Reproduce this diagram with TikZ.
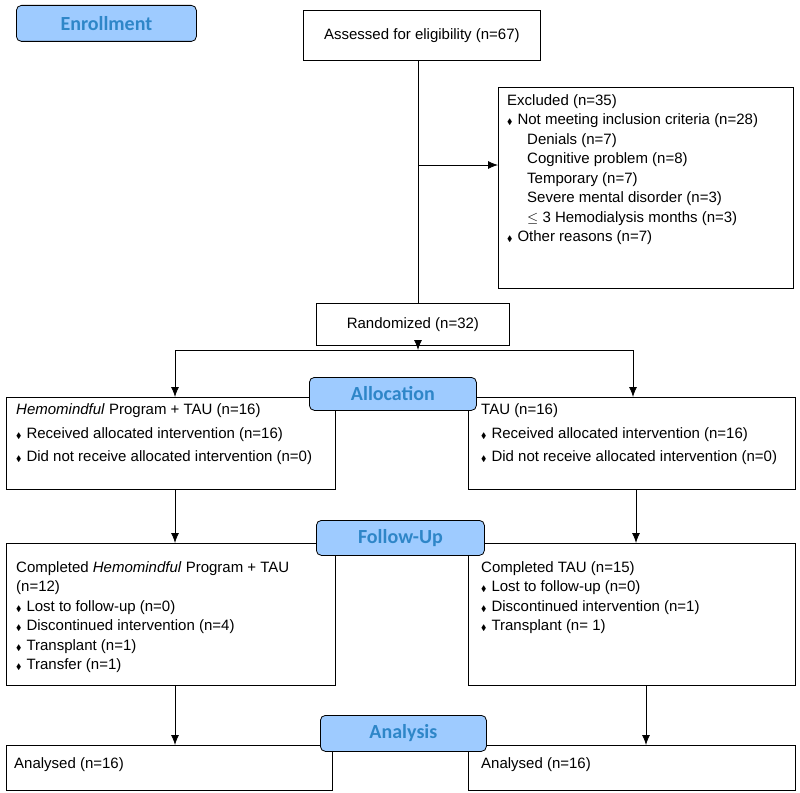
\documentclass[tikz,border=0pt]{standalone}
\usepackage{fontspec}
\usepackage{amssymb}
\setmainfont{Liberation Sans}
\newfontfamily\hdfont{Carlito}
\definecolor{hdfill}{HTML}{9ECBFF}
\definecolor{hdtext}{HTML}{2E86C8}
\newcommand{\dia}{{\fontsize{8}{8}\selectfont$\blacklozenge$}\hspace{5pt}}
\tikzset{
  box/.style={draw, line width=0.8pt, anchor=north west, inner sep=0pt},
  txt/.style={anchor=north west, align=left, inner sep=0pt, font=\fontsize{15}{19.5}\selectfont},
  head/.style={draw, line width=0.8pt, fill=hdfill, rounded corners=5pt, anchor=north west, inner sep=0pt,
    font=\hdfont\bfseries\fontsize{20}{20}\selectfont, text=hdtext},
  arr/.style={-{Latex[length=10pt,width=8pt]}, line width=0.8pt},
  ln/.style={line width=0.8pt}
}
\usetikzlibrary{arrows.meta}
\begin{document}
\begin{tikzpicture}[x=1pt,y=-1pt]
\useasboundingbox (0,0) rectangle (800,792);
% boxes
\node[box, minimum width=237pt, minimum height=50pt] (assess) at (303,10) {};
\node[txt, anchor=center] at (assess.center) {Assessed for eligibility (n=67)};
\node[box, minimum width=295pt, minimum height=201pt] (excl) at (498,87) {};
\node[txt] at (507,94) {Excluded (n=35)\\
\dia Not meeting inclusion criteria (n=28)\\
\hspace{20pt}Denials (n=7)\\
\hspace{20pt}Cognitive problem (n=8)\\
\hspace{20pt}Temporary (n=7)\\
\hspace{20pt}Severe mental disorder (n=3)\\
\hspace{20pt}$\leq$ 3 Hemodialysis months (n=3)\\
\dia Other reasons (n=7)};
\node[box, minimum width=193pt, minimum height=42pt] (rand) at (316,303) {};
\node[txt, anchor=center] at (rand.center) {Randomized (n=32)};
% allocation
\node[box, minimum width=329pt, minimum height=92pt] (allocL) at (6,397) {};
\node[txt] at (16,403) {\textit{Hemomindful} Program + TAU (n=16)\\[5pt]
\dia Received allocated intervention (n=16)\\[3pt]
\dia Did not receive allocated intervention (n=0)};
\node[box, minimum width=327pt, minimum height=92pt] (allocR) at (468,397) {};
\node[txt] at (481,403) {TAU (n=16)\\[5pt]
\dia Received allocated intervention (n=16)\\[3pt]
\dia Did not receive allocated intervention (n=0)};
% follow-up
\node[box, minimum width=329pt, minimum height=142pt] (fupL) at (6,543) {};
\node[txt] at (16,561) {Completed \textit{Hemomindful} Program + TAU\\
(n=12)\\
\dia Lost to follow-up (n=0)\\
\dia Discontinued intervention (n=4)\\
\dia Transplant (n=1)\\
\dia Transfer (n=1)};
\node[box, minimum width=327pt, minimum height=142pt] (fupR) at (468,543) {};
\node[txt] at (481,561) {Completed TAU (n=15)\\
\dia Lost to follow-up (n=0)\\
\dia Discontinued intervention (n=1)\\
\dia Transplant (n= 1)};
% analysis
\node[box, minimum width=326pt, minimum height=45pt] (anaL) at (6,745) {};
\node[txt, anchor=west] at (14,765) {Analysed (n=16)};
\node[box, minimum width=327pt, minimum height=45pt] (anaR) at (468,745) {};
\node[txt, anchor=west] at (481,765) {Analysed (n=16)};
% stage headers
\node[head, minimum width=180pt, minimum height=36pt] (enrol) at (16,5) {Enrollment};
\node[head, minimum width=167pt, minimum height=33pt] (alloc) at (309,377) {Allocation};
\node[head, minimum width=168pt, minimum height=35pt] (fup) at (316,520) {Follow-Up};
\node[head, minimum width=166pt, minimum height=36pt] (ana) at (320,715) {Analysis};
% connectors
\coordinate (split) at (418,350);
\coordinate (exj) at (418,165);
\draw[ln] (assess.south -| exj) -- (rand.north -| exj);
\draw[arr] (exj) -- (excl.west |- exj);
\draw[arr] (rand.south -| split) -- (split);
\draw[arr] (175,350) -- (175,397);
\draw[ln] (175,350) -- (633,350);
\draw[arr] (633,350) -- (633,397);
\draw[arr] (allocL.south -| 175,0) -- (fupL.north -| 175,0);
\draw[arr] (allocR.south -| 636,0) -- (fupR.north -| 636,0);
\draw[arr] (fupL.south -| 175,0) -- (anaL.north -| 175,0);
\draw[arr] (fupR.south -| 646,0) -- (anaR.north -| 646,0);
\end{tikzpicture}
\end{document}
